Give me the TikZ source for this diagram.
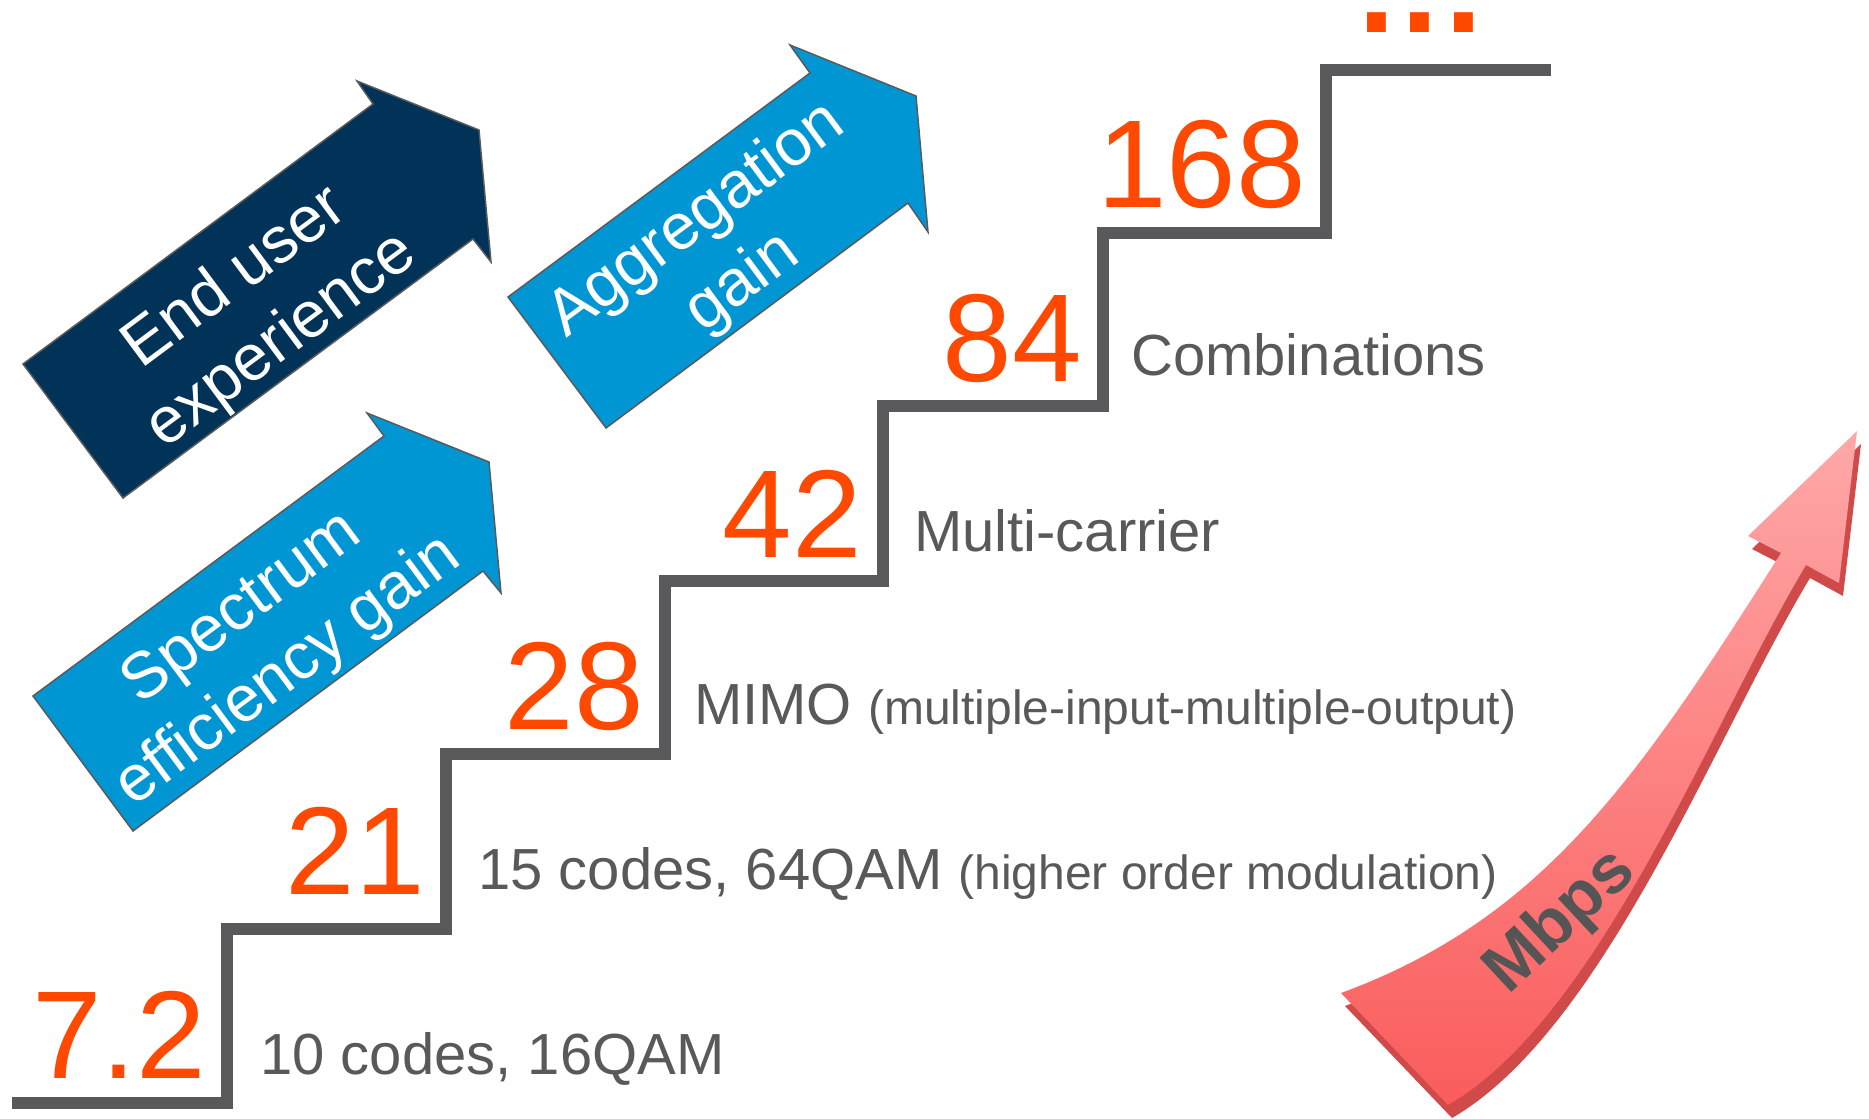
\documentclass[tikz,border=0pt]{standalone}
\usepackage{fontspec}
\setmainfont{Liberation Sans}
\definecolor{stair}{RGB}{89,89,91}
\definecolor{numor}{RGB}{255,72,0}
\definecolor{txtgray}{RGB}{89,89,89}
\definecolor{navy}{RGB}{0,51,87}
\definecolor{skyb}{RGB}{0,150,212}
\definecolor{arrowedge}{RGB}{90,90,90}
\definecolor{mbtop}{RGB}{255,168,168}
\definecolor{mbbot}{RGB}{250,92,92}
\definecolor{mbside}{RGB}{208,74,74}
\definecolor{mbtext}{RGB}{85,85,85}
\begin{document}
\begin{tikzpicture}[x=1pt,y=-1pt,
  numstyle/.style={font=\fontsize{125}{125}\selectfont, text=numor, inner sep=0pt, anchor=base east},
  descstyle/.style={font=\fontsize{58}{58}\selectfont, text=txtgray, inner sep=0pt, anchor=base west},
  blockarrow/.style={draw=arrowedge, line width=1.5pt, line join=miter},
  arrowtext/.style={text=white, font=\fontsize{65}{78}\selectfont, align=center, rotate=36.6, inner sep=0pt},
  stairline/.style={draw=stair, line width=12pt, line join=miter, line cap=butt},
]
\useasboundingbox (0,0) rectangle (1869,1119);

% staircase
\coordinate (s0) at (12,1103);
\coordinate (s1) at (227,1103);
\coordinate (s2) at (227,929);
\coordinate (s3) at (446,929);
\coordinate (s4) at (446,754);
\coordinate (s5) at (665,754);
\coordinate (s6) at (665,581);
\coordinate (s7) at (883,581);
\coordinate (s8) at (883,406);
\coordinate (s9) at (1103,406);
\coordinate (s10) at (1103,233);
\coordinate (s11) at (1326,233);
\coordinate (s12) at (1326,70);
\coordinate (s13) at (1551,70);
\draw[stairline] (s0) -- (s1) -- (s2) -- (s3) -- (s4) -- (s5) -- (s6) -- (s7) -- (s8) -- (s9) -- (s10) -- (s11) -- (s12) -- (s13);

% numbers
\node[numstyle] (n72) at (206,1078) {7.2};
\node[numstyle] (n21) at (425,894) {21};
\node[numstyle] (n28) at (644,729) {28};
\node[numstyle] (n42) at (862,557) {42};
\node[numstyle] (n84) at (1082,381) {84};
\node[numstyle] (n168) at (1306,207) {168};
\node[font=\bfseries\fontsize{133}{133}\selectfont, text=numor, inner sep=0pt, anchor=base,
      text height=19pt, text depth=0pt] (dots) at (1420,32)
  {\makebox[43.5pt]{.}\makebox[43.5pt]{.}\makebox[43.5pt]{.}};

% descriptions
\node[descstyle] (d1) at (260,1074) {10 codes, 16QAM};
\node[descstyle] (d2) at (478,889) {15 codes, 64QAM {\fontsize{48}{48}\selectfont (higher order modulation)}};
\node[descstyle] (d3) at (694,724) {MIMO {\fontsize{48}{48}\selectfont (multiple-input-multiple-output)}};
\node[descstyle] (d4) at (914,551) {Multi-carrier};
\node[descstyle] (d5) at (1131,375) {Combinations};

% block arrows
\filldraw[blockarrow, fill=navy] (23,364) -- (373,104) -- (357,81) -- (479,130) -- (491,262) -- (473,239) -- (123,498) -- cycle;
\filldraw[blockarrow, fill=skyb] (33,696) -- (384,436) -- (367,413) -- (489,462) -- (501,593) -- (483,571) -- (133,831) -- cycle;
\filldraw[blockarrow, fill=skyb] (508,297) -- (810,73) -- (790,45) -- (916,96) -- (928,232) -- (908,203) -- (606,428) -- cycle;
\node[arrowtext] (tend) at (259,310) {End user\\experience};
\node[arrowtext] (tspec) at (266,641) {Spectrum\\efficiency gain};
\node[arrowtext] (taggr) at (720,252) {Aggregation\\gain};

% Mbps arrow
\fill[mbside, shift={(4,13)}] (1341,993) -- (1448,1105) .. controls (1600,1017) and (1712,721) .. (1806,565)
  -- (1839,583) -- (1857,431) -- (1748,536) -- (1781,553) .. controls (1640,775) and (1545,918) .. (1341,993) -- cycle;
\shade[top color=mbtop, bottom color=mbbot] (1341,993) -- (1448,1105) .. controls (1600,1017) and (1712,721) .. (1806,565)
  -- (1839,583) -- (1857,431) -- (1748,536) -- (1781,553) .. controls (1640,775) and (1545,918) .. (1341,993) -- cycle;
\node[font=\bfseries\fontsize{68}{68}\selectfont, text=mbtext, rotate=43, inner sep=0pt] (mbps) at (1561,922) {Mbps};
\end{tikzpicture}
\end{document}
